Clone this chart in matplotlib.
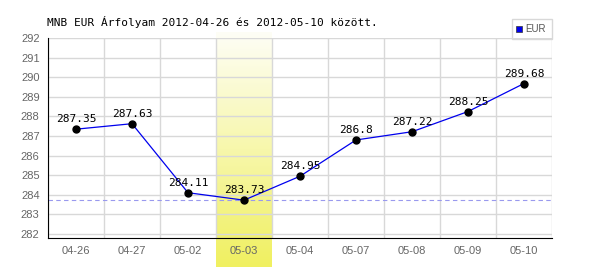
import numpy as np
import matplotlib
matplotlib.use("Agg")
import matplotlib.pyplot as plt
from matplotlib.colors import LinearSegmentedColormap
from matplotlib.patches import Rectangle

categories = ["04-26", "04-27", "05-02", "05-03", "05-04", "05-07", "05-08", "05-09", "05-10"]
values = [287.35, 287.63, 284.11, 283.73, 284.95, 286.8, 287.22, 288.25, 289.68]
value_labels = ["287.35", "287.63", "284.11", "283.73", "284.95", "286.8", "287.22", "288.25", "289.68"]
highlight_index = 3
title = "MNB EUR Árfolyam 2012-04-26 és 2012-05-10 között."
yticks = list(range(282, 293))

fig = plt.figure(figsize=(6, 2.7), dpi=100)
ax = fig.add_axes([0.08, 0.1185, 0.84, 0.7407])
ymin, ymax = 281.8, 292.0
x = np.arange(len(categories))

# highlight band with gradient
cmap = LinearSegmentedColormap.from_list("hl", ["#fefef6", "#f0f060"])
grad = np.linspace(0, 1, 256).reshape(-1, 1)
ax.imshow(grad, cmap=cmap, aspect="auto",
          extent=[highlight_index - 0.5, highlight_index + 0.5, 280.32, 292.3],
          origin="upper", clip_on=False, zorder=0)

for yv in yticks:
    ax.axhline(yv, color="#d8d8d8", lw=1, zorder=1)
for xv in np.arange(len(categories) + 1) - 0.5:
    ax.axvline(xv, color="#d8d8d8", lw=1, zorder=1)

ax.axhline(min(values), color="#9999ee", lw=0.8, ls=(0, (4, 3)), zorder=2)
ax.plot(x, values, color="#0000ee", lw=0.9, zorder=3)
ax.plot(x, values, "o", color="black", ms=5, zorder=4)
for xi, v, lab in zip(x, values, value_labels):
    ax.annotate(lab, (xi, v), xytext=(0, 3.5), textcoords="offset points",
                ha="center", va="bottom", fontsize=8, family="DejaVu Sans Mono", zorder=5)

ax.set_xlim(-0.5, len(categories) - 0.5)
ax.set_ylim(ymin, ymax)
ax.set_xticks(x)
ax.set_xticklabels(categories)
ax.set_yticks(yticks)
ax.tick_params(axis="both", length=0, labelsize=8, colors="#666666", pad=6)
for lab in ax.get_xticklabels() + ax.get_yticklabels():
    lab.set_family("Liberation Sans")
ax.spines["top"].set_visible(False)
ax.spines["right"].set_visible(False)
ax.spines["left"].set_color("black")
ax.spines["bottom"].set_color("black")
ax.set_facecolor("none")

fig.text(0.078, 1 - 22 / 270, title, fontsize=8, family="DejaVu Sans Mono", va="center", ha="left")

# legend
fig.patches.append(Rectangle((512 / 600, 1 - 39 / 270), 40 / 600, 20 / 270,
                             transform=fig.transFigure, fill=False, ec="#d8d8d8", lw=1))
fig.patches.append(Rectangle((516 / 600, 1 - 32 / 270), 6 / 600, 6 / 270,
                             transform=fig.transFigure, fc="#0000ee", ec="#333333", lw=0.5))
fig.text(525 / 600, 1 - 29 / 270, "EUR", fontsize=7, color="#555555", va="center", ha="left",
         family="Liberation Sans")

fig.savefig("out.png", dpi=100)
